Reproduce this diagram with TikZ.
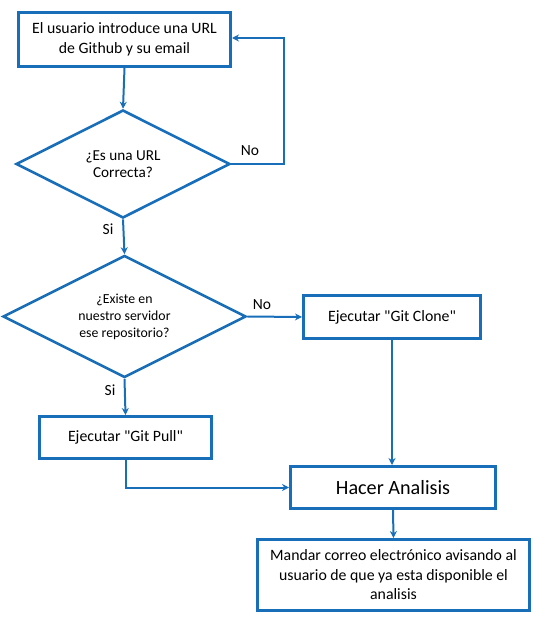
\documentclass[tikz,border=0pt]{standalone}
\usepackage{fontspec}
\setmainfont{Carlito}[Ligatures=TeXOff]
\usetikzlibrary{shapes.geometric,arrows.meta}
\definecolor{fblue}{RGB}{24,110,185}
\begin{document}
\begin{tikzpicture}[x=1pt,y=-1pt,
  boxn/.style={draw=fblue,line width=3pt,rectangle,inner sep=0pt,align=center,font=\fontsize{15.8}{19.5}\selectfont},
  dia/.style={draw=fblue,line width=2.6pt,diamond,shape aspect=2,inner sep=0pt,align=center,font=\fontsize{13.8}{17}\selectfont},
  arr/.style={draw=fblue,line width=2pt,-{Stealth[length=7pt,width=7pt]}},
  lbl/.style={font=\fontsize{15.5}{17}\selectfont,inner sep=0pt}]
\useasboundingbox (0,0) rectangle (541,629);
\node[boxn,minimum width=212pt,minimum height=54pt] (b1) at (124.5,39.5) {El usuario introduce una URL\\de Github y su email};
\node[dia,minimum width=214pt,minimum height=108pt,font=\fontsize{15.2}{17}\selectfont] (d1) at (123,164) {¿Es una URL\\Correcta?};
\node[dia,minimum width=243pt,minimum height=122pt] (d2) at (124.5,316.5) {¿Existe en\\nuestro servidor\\ese repositorio?};
\node[boxn,minimum width=177pt,minimum height=43pt] (clone) at (392,317) {Ejecutar "Git Clone"};
\node[boxn,minimum width=172pt,minimum height=42pt] (pull) at (125.5,437.5) {Ejecutar "Git Pull"};
\node[boxn,minimum width=205pt,minimum height=42pt,font=\fontsize{20.2}{23}\selectfont] (hacer) at (393,487.5) {Hacer Analisis};
\node[boxn,minimum width=272pt,minimum height=71pt] (mail) at (393.5,575) {Mandar correo electrónico avisando al\\usuario de que ya esta disponible el\\analisis};
\coordinate (lp) at (284,38);
\draw[arr] (b1.south) -- (d1.north);
\draw[arr] (d1.east) -| (lp) -- (b1.east |- lp);
\draw[arr] (d1.south) -- (d2.north);
\draw[arr] (d2.east) -- (clone.west);
\draw[arr] (d2.south) -- (pull.north);
\draw[arr] (clone.south) -- (hacer.north -| clone.south);
\draw[arr] (pull.south) |- (hacer.west);
\draw[arr] (hacer.south) -- (mail.north);
\node[lbl] (no1) at (250,151) {No};
\node[lbl] (si1) at (108,229.5) {Si};
\node[lbl] (no2) at (262,305) {No};
\node[lbl] (si2) at (110,390) {Si};
\end{tikzpicture}
\end{document}
